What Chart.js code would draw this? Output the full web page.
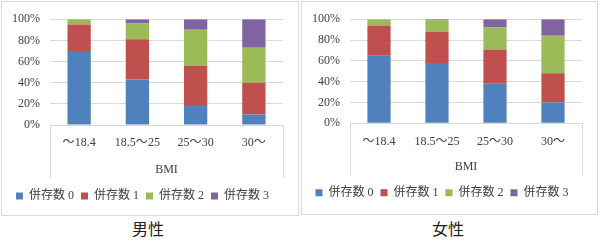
<!DOCTYPE html>
<html lang="ja">
  <head>
    <meta charset="UTF-8" />
    <title>BMI別 併存数</title>
    <script src="https://cdn.jsdelivr.net/npm/chart.js"></script>
    <style>
      body { margin: 0; background: #fff; width: 600px; height: 243px; position: relative; overflow: hidden; }
      .panel { position: absolute; top: 1px; border: 1px solid #d9d9d9; background: #fff; }
      .panel canvas { display: block; }
      .caption { position: absolute; top: 217px; width: 120px; text-align: center;
        font-family: "Noto Sans CJK JP", sans-serif; font-size: 16px; color: #222; line-height: 22px; }
    </style>
  </head>
  <body>
    <div class="panel" style="left:1px;width:296px;height:213px">
      <canvas id="maleChart" width="296" height="213"></canvas>
    </div>
    <div class="panel" style="left:301px;width:295px;height:212px">
      <canvas id="femaleChart" width="295" height="212"></canvas>
    </div>
    <div class="caption" style="left:88px">男性</div>
    <div class="caption" style="left:388px">女性</div>

    <script>
      const categories = ["～18.4", "18.5～25", "25～30", "30～"];
      const seriesNames = ["併存数 0", "併存数 1", "併存数 2", "併存数 3"];
      const yTicks = [0, 20, 40, 60, 80, 100];

      // 男性 (%)
      const male0 = [70, 43, 19, 10];
      const male1 = [25, 38, 37, 30];
      const male2 = [5, 15, 34, 33];
      const male3 = [0, 4, 10, 27];

      // 女性 (%)
      const female0 = [65, 58, 38, 20];
      const female1 = [29, 30, 33, 28];
      const female2 = [6, 11, 21, 36];
      const female3 = [0, 1, 8, 16];

      const colors = ["#4F81BD", "#C0504D", "#9BBB59", "#8064A2"];
      const textFont = { family: "'Liberation Serif', 'Noto Sans CJK JP', serif", size: 12 };

      // light lines at both sides of the category axis area
      const sideLines = {
        id: "sideLines",
        afterDraw(chart) {
          const { ctx, chartArea } = chart;
          ctx.save();
          ctx.strokeStyle = "#d9d9d9";
          ctx.lineWidth = 1;
          ctx.beginPath();
          [chartArea.left, chartArea.right].forEach((x) => {
            const px = Math.round(x) + 0.5;
            ctx.moveTo(px, chartArea.bottom);
            ctx.lineTo(px, chartArea.bottom + 53);
          });
          ctx.stroke();
          ctx.restore();
        },
      };

      function makeChart(id, values, xHeight, padBottom) {
        const ctx = document.getElementById(id).getContext("2d");
        return new Chart(ctx, {
          type: "bar",
          data: {
            labels: categories,
            datasets: values.map((v, i) => ({
              label: seriesNames[i],
              data: v,
              backgroundColor: colors[i],
              borderWidth: 0,
              categoryPercentage: 1,
              barPercentage: 0.4,
            })),
          },
          options: {
            responsive: false,
            animation: false,
            layout: { padding: { top: 13, right: 15, left: 0, bottom: padBottom } },
            scales: {
              x: {
                stacked: true,
                grid: { display: false, drawTicks: false },
                border: { color: "#d9d9d9" },
                ticks: { font: textFont, color: "#404040", padding: 11 },
                title: {
                  display: true,
                  text: "BMI",
                  font: textFont,
                  color: "#404040",
                  padding: { top: 4, bottom: 5.5 },
                },
                afterFit: (scale) => { scale.height = xHeight; },
              },
              y: {
                stacked: true,
                min: 0,
                max: 100,
                afterBuildTicks: (scale) => { scale.ticks = yTicks.map((v) => ({ value: v })); },
                grid: { color: "#d9d9d9", drawTicks: false },
                border: { display: false },
                ticks: { font: textFont, color: "#404040", padding: 10, callback: (v) => v + "%" },
                afterFit: (scale) => { scale.width = 48; },
              },
            },
            plugins: {
              tooltip: { enabled: false },
              legend: {
                position: "bottom",
                labels: { boxWidth: 7, boxHeight: 7, padding: 7, font: textFont, color: "#404040" },
              },
            },
          },
          plugins: [sideLines],
        });
      }

      makeChart("maleChart", [male0, male1, male2, male3], 58, 3);
      makeChart("femaleChart", [female0, female1, female2, female3], 56.4, 5.3);
    </script>
  </body>
</html>
